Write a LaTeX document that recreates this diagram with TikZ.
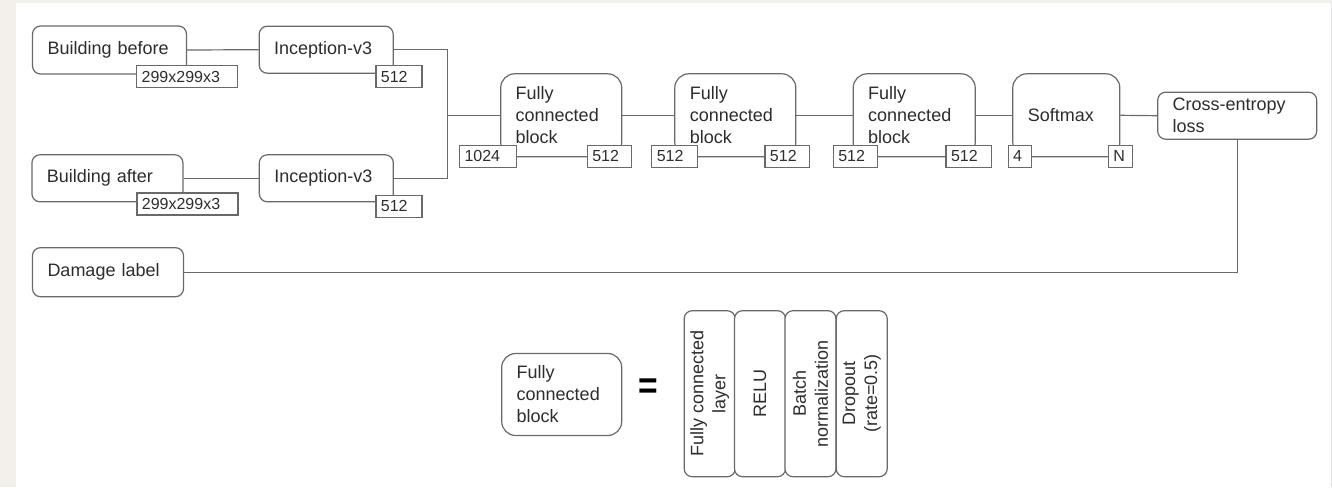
\documentclass[tikz,border=0pt]{standalone}
\usepackage{fontspec}
\setmainfont{Liberation Sans}
\definecolor{lc}{RGB}{105,105,105}
\definecolor{tc}{RGB}{45,45,45}
\definecolor{bg}{RGB}{243,239,234}
\definecolor{edge}{RGB}{225,225,225}
\newcommand{\mainf}{\fontsize{18}{22}\selectfont}
\newcommand{\lblf}{\fontsize{16}{18}\selectfont}
\begin{document}
\begin{tikzpicture}[x=1pt,y=-1pt,
  every node/.style={text=tc},
  box/.style 2 args={draw=lc, line width=1.2pt, rounded corners=8, fill=white,
    minimum width=#1, minimum height=#2, text width={#1-30}, inner xsep=15,
    inner ysep=0, align=left, font=\mainf},
  bigbox/.style 2 args={box={#1}{#2}, rounded corners=14},
  lab/.style={draw=lc, line width=1.2pt, fill=white, minimum width=#1,
    text width={#1-10}, inner xsep=5, inner ysep=0, minimum height=22,
    align=left, font=\lblf},
  conn/.style={draw=lc, line width=1.2pt},
  vbox/.style={draw=lc, line width=1.2pt, rounded corners=8, fill=white,
    rotate=90, minimum width=166, minimum height=51, inner sep=0,
    align=center, font=\mainf}
]
% background
\fill[bg] (0,0) rectangle (1332,487);
\fill[white] (16,3) rectangle (1331,487);
\draw[edge, line width=1pt] (1331.5,3) -- (1331.5,487);
\useasboundingbox (0,0) rectangle (1332,487);

% main boxes
\node[box={154}{48}] (bb) at (109.5,50) {Building before};
\node[box={151}{47}] (ba) at (107.4,178.3) {Building after};
\node[box={151}{49}] (dl) at (108,272.2) {Damage label};
\node[box={134}{47}] (inc1) at (326.2,49.7) {Inception-v3};
\node[box={134}{47}] (inc2) at (326.3,178.3) {Inception-v3};
\node[bigbox={121}{83}] (fc1) at (561.2,115.3) {Fully\\connected\\block};
\node[bigbox={121}{83}] (fc2) at (735.3,115.3) {Fully\\connected\\block};
\node[bigbox={122}{83}] (fc3) at (914.2,115.3) {Fully\\connected\\block};
\node[bigbox={107}{83}] (sm) at (1066.3,115.3) {Softmax};
\node[box={159}{47}] (ce) at (1237.2,115.7) {Cross-entropy\\loss};

% connectors
\coordinate (j) at (447.7,115.3);
\draw[conn] (bb.east) -- (inc1.west);
\draw[conn] (ba.east) -- (inc2.west);
\draw[conn] (inc1.east) -| (j) |- (inc2.east);
\draw[conn] (j) -- (fc1.west);
\draw[conn] (fc1.east) -- (fc2.west);
\draw[conn] (fc2.east) -- (fc3.west);
\draw[conn] (fc3.east) -- (sm.west);
\draw[conn] (sm.east) -- (ce.west);
\draw[conn] (dl.east) -| (ce.south);

% size labels
\node[lab=101] (bbl) at (187.2,76.5) {299x299x3};
\node[lab=101] (bal) at (187.4,204) {299x299x3};
\node[lab=46] (i1l) at (398.9,76.5) {512};
\node[lab=46] (i2l) at (398.9,206.4) {512};
\node[lab=57] (f1a) at (488,156.3) {1024};
\node[lab=44.5] (f1b) at (609.5,156.3) {512};
\node[lab=45.5] (f2a) at (674.5,156.3) {512};
\node[lab=44.5] (f2b) at (787.2,156.3) {512};
\node[lab=44.5] (f3a) at (855.5,156.3) {512};
\node[lab=45.5] (f3b) at (968.8,156.3) {512};
\node[lab=23] (s4) at (1019.7,156.3) {4};
\node[lab=24] (sN) at (1120.3,156.3) {N};

% legend
\node[bigbox={120}{82}] (lfc) at (561.7,394.5) {Fully\\connected\\block};
\node[font=\bfseries\fontsize{42}{42}\selectfont, inner sep=0, text=black] (eq) at (648.3,388.5) {\scalebox{0.8}[0.9]{=}};
\node[vbox] (v1) at (709.7,393.7) {Fully connected\\layer};
\node[vbox] (v2) at (760,393.7) {RELU};
\node[vbox] (v3) at (810.5,393.7) {Batch\\normalization};
\node[vbox] (v4) at (861.7,393.7) {Dropout\\(rate=0.5)};
\end{tikzpicture}
\end{document}
